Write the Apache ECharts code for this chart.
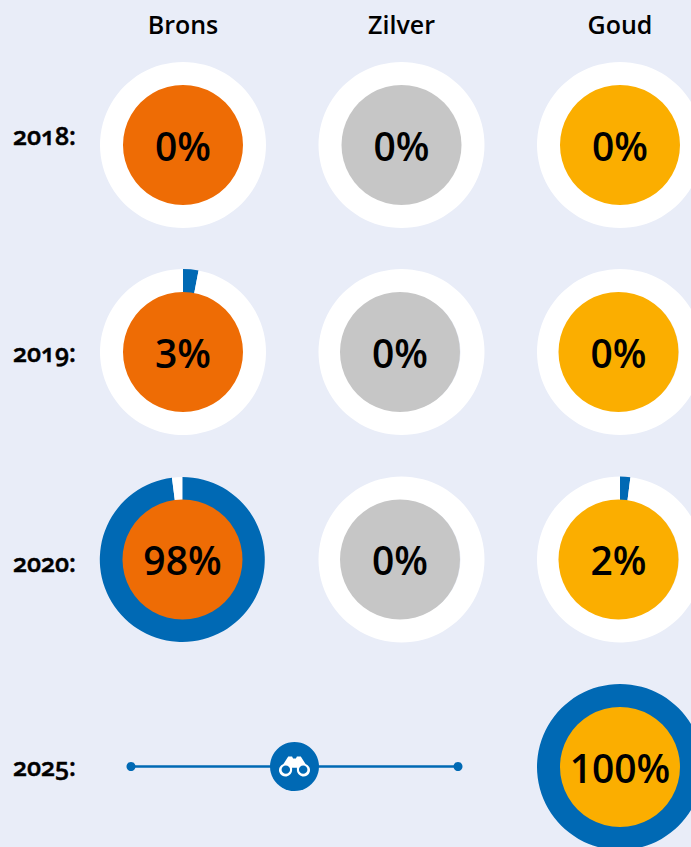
<!DOCTYPE html>
<html><head><meta charset="utf-8">
<style>html,body{margin:0;padding:0;background:#E9EDF8}#c{width:691px;height:847px}</style>
<script src="https://cdn.jsdelivr.net/npm/echarts@6/dist/echarts.min.js"></script>
</head><body><div id="c"></div>
<script>
const medals = ['Brons','Zilver','Goud'];
const years = ['2018:','2019:','2020:','2025:'];
const brons  = [0,3,98,null];
const zilver = [0,0,0,null];
const goud   = [0,0,2,100];
const sliderEnds = [0,100];
const sliderMark = [50];

const colors = {Brons:'#EE6C05',Zilver:'#C6C6C6',Goud:'#FBAE00'};
const blue = '#0069B4', bg = '#E9EDF8';
const colX = [183,401.5,620];
const rowY = [145,352,559.5,767];
// small per-cell offset of the inner disc, [column][row]
const innerShift = [[0,0,-0.5,0],[0,-1.5,-1.5,0],[0,-1.5,-1.5,0]];
const yearLabelY = [134.5,351.5,561.5,765.5];
const font = '"Open Sans"';
const bino = 'path://M9,0 L13,0 L14,2 L17,2 L18,0 L22,0 L27,8 A6.8,6.8 0 1 1 18,14 L18,12 L13,12 L13,14 A6.8,6.8 0 1 1 4,8 Z M6.5,9.6 A4.4,4.4 0 1 0 6.5,18.4 A4.4,4.4 0 1 0 6.5,9.6 Z M24.5,9.6 A4.4,4.4 0 1 0 24.5,18.4 A4.4,4.4 0 1 0 24.5,9.6 Z';

const series = [];
[brons,zilver,goud].forEach((vals,c)=>{
  vals.forEach((v,r)=>{
    if(v===null) return;
    const big = c===0&&r===2;
    series.push({type:'pie',silent:true,clockwise:true,startAngle:90,radius:[59,big?82.5:83],center:[big?182.3:colX[c],rowY[r]],
      label:{show:false},labelLine:{show:false},
      data:[{value:v,itemStyle:{color:blue}},{value:100-v,itemStyle:{color:'#fff'}}],
      stillShowZeroSum:true,animation:false});
    series.push({type:'pie',silent:true,radius:[0,60],center:[colX[c]+innerShift[c][r],rowY[r]],animation:false,
      data:[{value:1,name:v+'%',itemStyle:{color:colors[medals[c]]}}],
      label:{show:true,position:'center',formatter:'{b}',color:'#000',fontFamily:font,fontWeight:600,fontSize:39},
      labelLine:{show:false}});
  });
});
series.push({type:'line',silent:true,xAxisIndex:0,yAxisIndex:0,animation:false,
  data:sliderEnds.map(x=>[x,0]),symbol:'circle',symbolSize:9,
  lineStyle:{color:blue,width:2.5},itemStyle:{color:blue},z:3});
series.push({type:'scatter',silent:true,animation:false,data:sliderMark.map(x=>[x,0]),symbol:'circle',symbolSize:49,itemStyle:{color:blue,opacity:1},z:4});
series.push({type:'scatter',silent:true,animation:false,data:sliderMark.map(x=>[x,0]),symbol:bino,symbolSize:[31,20],itemStyle:{color:'#fff',opacity:1},z:5});

const chart=echarts.init(document.getElementById('c'),null,{renderer:'svg'});
chart.setOption({
  backgroundColor:bg,animation:false,
  grid:{left:131,width:327,top:766,height:1,containLabel:false},
  xAxis:{type:'value',min:0,max:100,show:false},
  yAxis:{type:'value',min:-1,max:1,show:false},
  series,
  graphic:[
    ...medals.map((m,i)=>({type:'text',x:colX[i],y:24,z:10,style:{text:m,fill:'#000',font:`600 25px ${font}`,align:'center',verticalAlign:'middle'}})),
    ...years.map((y,i)=>({type:'text',x:13,y:yearLabelY[i],z:10,style:{text:y,fill:'#000',stroke:'#000',lineWidth:0.5,font:`600 25px ${font}`,align:'left',verticalAlign:'middle'}}))
  ]
});
function oldStyleYears(){
  document.querySelectorAll('#c svg text').forEach(t=>{
    if(t.textContent.trim().endsWith(':')) t.style.fontFeatureSettings='"onum" 1';
  });
}
oldStyleYears();
chart.on('finished',oldStyleYears);
</script></body></html>
